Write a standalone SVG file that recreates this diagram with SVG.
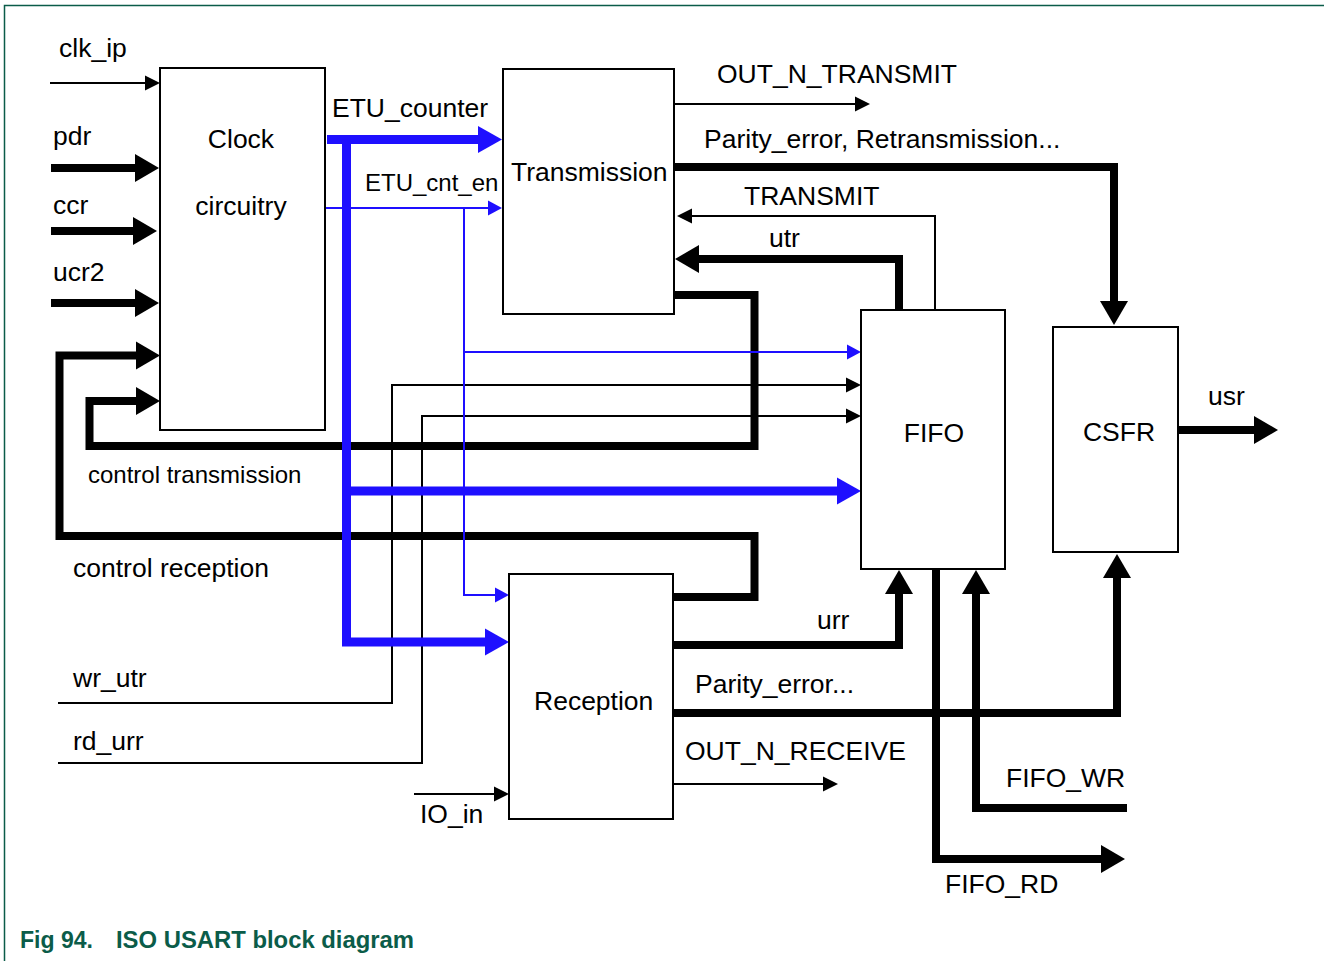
<svg xmlns="http://www.w3.org/2000/svg" width="1324" height="961" viewBox="0 0 1324 961">
<style>
  .box { fill: #ffffff; stroke: #000000; stroke-width: 2; }
  .t { font-family: "Liberation Sans", Arial, Helvetica, sans-serif; font-size: 26.5px; fill: #000000; }
  .ts { font-family: "Liberation Sans", Arial, Helvetica, sans-serif; font-size: 24px; fill: #000000; }
  .mid { text-anchor: middle; }
  .cap { font-family: "Liberation Sans", Arial, Helvetica, sans-serif; font-size: 23.5px; font-weight: bold; fill: #0b5c49; }
  .kb { fill: none; stroke: #000000; stroke-width: 8; stroke-linejoin: miter; stroke-linecap: butt; }
  .kt { fill: none; stroke: #000000; stroke-width: 2; stroke-linejoin: miter; stroke-linecap: butt; }
  .bb { fill: none; stroke: #1e0fff; stroke-width: 9; stroke-linejoin: miter; stroke-linecap: butt; }
  .bt { fill: none; stroke: #1e0fff; stroke-width: 2; stroke-linejoin: miter; stroke-linecap: butt; }
  .frame { fill: none; stroke: #0b5c49; stroke-width: 1.5; }
</style>
<defs>
  <marker id="ahKB" markerUnits="userSpaceOnUse" markerWidth="26" markerHeight="28" refX="0" refY="14" orient="auto" overflow="visible">
    <path d="M0,0 L24,14 L0,28 z" fill="#000000"/>
  </marker>
  <marker id="ahKT" markerUnits="userSpaceOnUse" markerWidth="16" markerHeight="16" refX="0" refY="7.5" orient="auto" overflow="visible">
    <path d="M0,0 L15,7.5 L0,15 z" fill="#000000"/>
  </marker>
  <marker id="ahBB" markerUnits="userSpaceOnUse" markerWidth="26" markerHeight="28" refX="0" refY="13.5" orient="auto" overflow="visible">
    <path d="M0,0 L24,13.5 L0,27 z" fill="#1e0fff"/>
  </marker>
  <marker id="ahBT" markerUnits="userSpaceOnUse" markerWidth="16" markerHeight="16" refX="0" refY="7.5" orient="auto" overflow="visible">
    <path d="M0,0 L14,7.5 L0,15 z" fill="#1e0fff"/>
  </marker>
</defs>

<rect x="0" y="0" width="1324" height="961" fill="#ffffff"/>
<path class="frame" d="M4.5,961 V5.5 H1324"/>

<g id="connectors">
  <!-- thin black -->
  <path class="kt" d="M50,83 H145" marker-end="url(#ahKT)"/>
  <path class="kt" d="M674,104 H855" marker-end="url(#ahKT)"/>
  <path class="kt" d="M935,310 V216 H692" marker-end="url(#ahKT)"/>
  <path class="kt" d="M58,703 H392 V385 H846" marker-end="url(#ahKT)"/>
  <path class="kt" d="M58,763 H422 V416 H846" marker-end="url(#ahKT)"/>
  <path class="kt" d="M414,794 H494" marker-end="url(#ahKT)"/>
  <path class="kt" d="M673,784 H823" marker-end="url(#ahKT)"/>

  <!-- thick black -->
  <path class="kb" d="M51,168 H135" marker-end="url(#ahKB)"/>
  <path class="kb" d="M51,231 H133" marker-end="url(#ahKB)"/>
  <path class="kb" d="M51,303 H135" marker-end="url(#ahKB)"/>
  <path class="kb" d="M673,597 H754.5 V536 H59.5 V355.5 H136" marker-end="url(#ahKB)"/>
  <path class="kb" d="M674,295 H754.5 V446 H89.5 V401 H136" marker-end="url(#ahKB)"/>
  <path class="kb" d="M674,167 H1114 V301" marker-end="url(#ahKB)"/>
  <path class="kb" d="M899,310 V259 H699" marker-end="url(#ahKB)"/>
  <path class="kb" d="M1178,430 H1254" marker-end="url(#ahKB)"/>
  <path class="kb" d="M673,645 H899 V594" marker-end="url(#ahKB)"/>
  <path class="kb" d="M936,569 V859 H1101" marker-end="url(#ahKB)"/>
  <path class="kb" d="M1127,808 H976 V594" marker-end="url(#ahKB)"/>
  <path class="kb" d="M673,713 H1117 V578" marker-end="url(#ahKB)"/>

  <!-- thick blue -->
  <path class="bb" d="M327,139.5 H478" marker-end="url(#ahBB)"/>
  <path class="bb" d="M346.5,139.5 V642 H485" marker-end="url(#ahBB)"/>
  <path class="bb" d="M346.5,491 H837" marker-end="url(#ahBB)"/>

  <!-- thin blue -->
  <path class="bt" d="M325,208 H488" marker-end="url(#ahBT)"/>
  <path class="bt" d="M464,208 V595 H495" marker-end="url(#ahBT)"/>
  <path class="bt" d="M464,352 H847" marker-end="url(#ahBT)"/>
</g>

<g id="clock">
  <rect class="box" x="160" y="68" width="165" height="362"/>
  <text class="t mid" x="241" y="148">Clock</text>
  <text class="t mid" x="241" y="215">circuitry</text>
</g>

<g id="transmission">
  <rect class="box" x="503" y="69" width="171" height="245"/>
  <text class="t" x="511" y="181">Transmission</text>
</g>

<g id="reception">
  <rect class="box" x="509" y="574" width="164" height="245"/>
  <text class="t" x="534" y="710">Reception</text>
</g>

<g id="fifo">
  <rect class="box" x="861" y="310" width="144" height="259"/>
  <text class="t mid" x="934" y="442">FIFO</text>
</g>

<g id="csfr">
  <rect class="box" x="1053" y="327" width="125" height="225"/>
  <text class="t mid" x="1119" y="441">CSFR</text>
</g>

<g id="labels">
  <text class="t" x="59" y="57">clk_ip</text>
  <text class="t" x="53" y="145">pdr</text>
  <text class="t" x="53" y="214">ccr</text>
  <text class="t" x="53" y="281">ucr2</text>
  <text class="t" x="332" y="117">ETU_counter</text>
  <text class="ts" x="365" y="191">ETU_cnt_en</text>
  <text class="t" x="717" y="83">OUT_N_TRANSMIT</text>
  <text class="t" x="704" y="148">Parity_error, Retransmission...</text>
  <text class="t" x="744" y="205">TRANSMIT</text>
  <text class="t" x="769" y="247">utr</text>
  <text class="ts" x="88" y="483">control transmission</text>
  <text class="t" x="73" y="577">control reception</text>
  <text class="t" x="1208" y="405">usr</text>
  <text class="t" x="817" y="629">urr</text>
  <text class="t" x="695" y="693">Parity_error...</text>
  <text class="t" x="685" y="760">OUT_N_RECEIVE</text>
  <text class="t" x="1006" y="787">FIFO_WR</text>
  <text class="t" x="945" y="893">FIFO_RD</text>
  <text class="t" x="73" y="687">wr_utr</text>
  <text class="t" x="73" y="750">rd_urr</text>
  <text class="t" x="420" y="823">IO_in</text>
</g>

<g id="caption">
  <text class="cap" x="20" y="948" textLength="73" lengthAdjust="spacingAndGlyphs">Fig 94.</text>
  <text class="cap" x="116" y="948" textLength="298" lengthAdjust="spacingAndGlyphs">ISO USART block diagram</text>
</g>
</svg>
